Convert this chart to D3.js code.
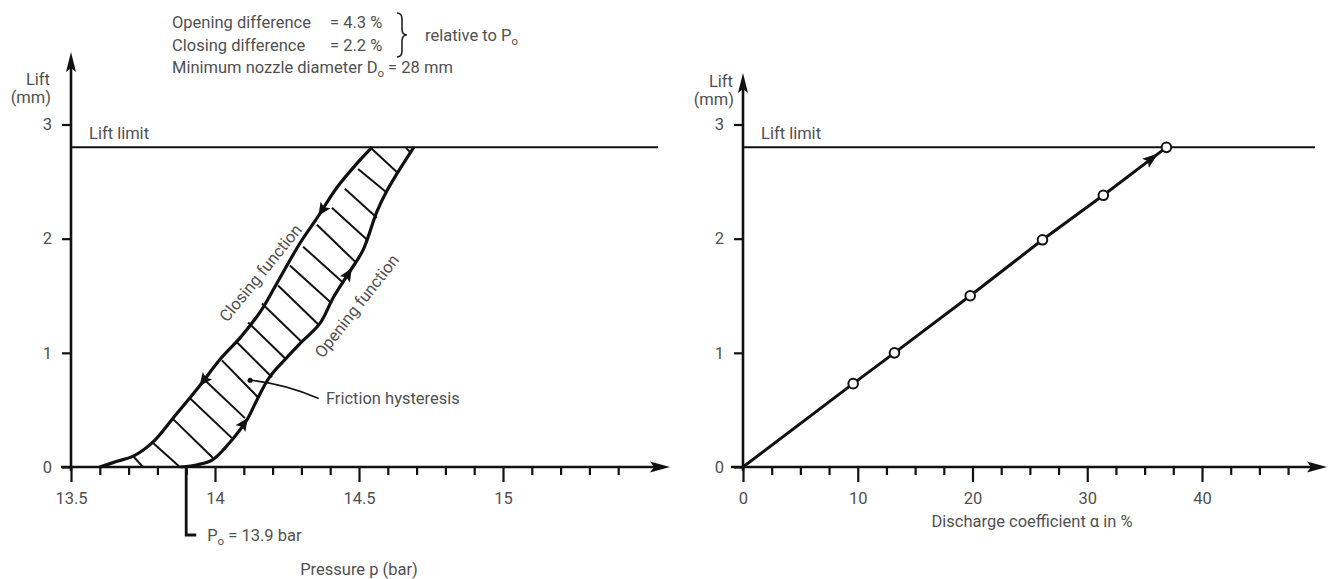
<!DOCTYPE html>
<html>
<head>
<meta charset="utf-8">
<script src="https://cdn.jsdelivr.net/npm/d3@7"></script>
<style>
	body { margin: 0; background: #fff; }
	svg text { font-family: Roboto, "DejaVu Sans", sans-serif; font-size: 16.5px; fill: #505050; }
</style>
</head>
<body>
<div id="chart"></div>
<script>
// lift axis (both charts)
var liftTicks = [0, 1, 2, 3];
var liftLimit = 2.8;

// left chart: pressure axis
var pressureTicks = [13.5, 14, 14.5, 15];
var pressureMinorTicks = [13.6, 13.7, 13.8, 13.9, 14.1, 14.2, 14.3, 14.4, 14.6, 14.7, 14.8, 14.9, 15.1, 15.2, 15.3, 15.4];
var setPressure = 13.9;

// closing function (pressure in bar, lift in mm)
var closingPressure = [13.6, 13.66, 13.72, 13.785, 13.855, 13.94, 14.02, 14.09, 14.16, 14.215, 14.295, 14.354, 14.424, 14.493, 14.545];
var closingLift = [0, 0.05, 0.1, 0.22, 0.43, 0.69, 0.95, 1.14, 1.37, 1.61, 1.96, 2.18, 2.45, 2.66, 2.8];

// opening function
var openingPressure = [13.88, 13.94, 13.99, 14.05, 14.11, 14.146, 14.19, 14.25, 14.295, 14.365, 14.41, 14.47, 14.514, 14.5625, 14.597, 14.632, 14.69];
var openingLift = [0, 0.02, 0.06, 0.21, 0.41, 0.59, 0.79, 0.96, 1.08, 1.26, 1.48, 1.72, 1.9, 2.24, 2.42, 2.57, 2.8];

// friction hysteresis hatching: start on closing curve, end on opening curve
var hatchStart = [[13.715, 0.096], [13.785, 0.21], [13.851, 0.428], [13.913, 0.603], [13.965, 0.76], [14.024, 0.934], [14.076, 1.092],
	[14.115, 1.266], [14.163, 1.432], [14.219, 1.59], [14.26, 1.764], [14.306, 1.93], [14.354, 2.122], [14.406, 2.271], [14.451, 2.437],
	[14.497, 2.611], [14.545, 2.786], [14.663, 2.795]];
var hatchEnd = [[13.75, 0], [13.878, 0], [13.993, 0.079], [14.059, 0.253], [14.104, 0.428], [14.149, 0.611], [14.198, 0.786],
	[14.243, 0.952], [14.302, 1.092], [14.358, 1.25], [14.406, 1.432], [14.448, 1.607], [14.49, 1.79], [14.531, 1.983], [14.562, 2.183],
	[14.597, 2.402], [14.635, 2.576], [14.681, 2.751]];

// direction arrows on the curves (lift where they sit)
var closingArrowLifts = [0.71, 2.2];
var openingArrowLifts = [0.43, 1.74];

// right chart: discharge coefficient
var dischargeTicks = [0, 10, 20, 30, 40];
var dischargeMinorTicks = [2.5, 5, 7.5, 12.5, 15, 17.5, 22.5, 25, 27.5, 32.5, 35, 37.5, 42.5, 45, 47.5];
var dischargeValues = [0, 9.6, 13.2, 19.8, 26.1, 31.4, 36.9];
var dischargeLift = [0, 0.73, 1.0, 1.5, 1.99, 2.38, 2.8];

(function() {
	"use strict";

	var svg = d3.select('#chart')
		.append('svg')
		.attr('width', 1332)
		.attr('height', 579);

	var liftScale = d3.scaleLinear().domain([0, 3]).range([467, 124.5]);
	var pressureScale = d3.scaleLinear().domain([13.5, 15]).range([71, 503]);
	var dischargeScale = d3.scaleLinear().domain([0, 40]).range([743, 1202]);

	renderNotes(svg);
	renderPressureChart(svg.append('g'), pressureScale, liftScale);
	renderDischargeChart(svg.append('g'), dischargeScale, liftScale);

	function arrowHead(g, x, y, angle, len, half) {
		g.append('path')
			.attr('d', 'M0,0 L' + (-len) + ',' + (-half) + ' L' + (-len * 0.8) + ',0 L' + (-len) + ',' + half + ' Z')
			.attr('transform', 'translate(' + x + ',' + y + ') rotate(' + angle + ')')
			.attr('fill', '#111');
	}

	function drawAxes(g, x, y, opts) {
		var x0 = x.range()[0];
		var y0 = y(0);

		g.append('g')
			.attr('transform', 'translate(0,' + y0 + ')')
			.call(d3.axisBottom(x).tickValues(opts.minor).tickSize(8).tickFormat(''))
			.call(function (a) { a.select('.domain').remove(); })
			.selectAll('line').attr('stroke', '#111').attr('stroke-width', 2.2);

		var major = g.append('g')
			.attr('transform', 'translate(0,' + y0 + ')')
			.call(d3.axisBottom(x).tickValues(opts.major).tickSize(15).tickPadding(10).tickFormat(d3.format('')));
		major.select('.domain').remove();
		major.selectAll('line').attr('stroke', '#111').attr('stroke-width', 2.2);
		major.selectAll('text').attr('font-size', null).attr('font-family', null).attr('fill', null);

		var left = g.append('g')
			.attr('transform', 'translate(' + x0 + ',0)')
			.call(d3.axisLeft(y).tickValues(liftTicks).tickSize(9).tickPadding(10).tickFormat(d3.format('d')));
		left.select('.domain').remove();
		left.selectAll('line').attr('stroke', '#111').attr('stroke-width', 2.2);
		left.selectAll('text').attr('font-size', null).attr('font-family', null).attr('fill', null);

		// axis lines with arrows
		g.append('line')
			.attr('x1', opts.xStart).attr('x2', opts.xEnd - 10)
			.attr('y1', y0).attr('y2', y0)
			.attr('stroke', '#111').attr('stroke-width', 2.6);
		arrowHead(g, opts.xEnd, y0, 0, 20, 5.5);

		g.append('line')
			.attr('x1', x0).attr('x2', x0)
			.attr('y1', y0 + 4).attr('y2', opts.yTop + 10)
			.attr('stroke', '#111').attr('stroke-width', 2.6);
		arrowHead(g, x0, opts.yTop, -90, 20, 5);

		// lift limit
		g.append('line')
			.attr('x1', x0).attr('x2', opts.xEnd - 12)
			.attr('y1', y(liftLimit)).attr('y2', y(liftLimit))
			.attr('stroke', '#111').attr('stroke-width', 2);
		g.append('text')
			.attr('x', x0 + 18)
			.attr('y', y(liftLimit) - 8)
			.text('Lift limit');

		var label = g.append('text')
			.attr('text-anchor', 'end')
			.attr('y', opts.labelY);
		label.append('tspan').attr('x', opts.labelX - 1).text('Lift');
		label.append('tspan').attr('x', opts.labelX).attr('dy', 18).text('(mm)');
	}

	function renderPressureChart(g, x, y) {
		drawAxes(g, x, y, {
			major: pressureTicks, minor: pressureMinorTicks,
			xStart: 61, xEnd: 670, yTop: 52, labelX: 51, labelY: 85
		});

		var hatch = g.append('g');
		hatch.selectAll('line')
			.data(d3.zip(hatchStart, hatchEnd))
			.enter()
			.append('line')
			.attr('x1', function (d) { return x(d[0][0]); })
			.attr('y1', function (d) { return y(d[0][1]); })
			.attr('x2', function (d) { return x(d[1][0]); })
			.attr('y2', function (d) { return y(d[1][1]); })
			.attr('stroke', '#111')
			.attr('stroke-width', 2);

		var line = d3.line()
			.x(function (d) { return x(d[0]); })
			.y(function (d) { return y(d[1]); })
			.curve(d3.curveCatmullRom);

		var closing = d3.zip(closingPressure, closingLift);
		var opening = d3.zip(openingPressure, openingLift);

		[closing, opening].forEach(function (pts) {
			g.append('path')
				.attr('d', line(pts))
				.attr('fill', 'none')
				.attr('stroke', '#111')
				.attr('stroke-width', 3.2)
				.attr('stroke-linejoin', 'round');
		});

		curveArrows(g, x, y, closingPressure, closingLift, closingArrowLifts, -1);
		curveArrows(g, x, y, openingPressure, openingLift, openingArrowLifts, 1);

		// curve labels
		g.append('text')
			.attr('text-anchor', 'middle')
			.attr('transform', 'translate(' + x(14.158) + ',' + y(1.70) + ') rotate(-51)')
			.attr('dy', '0.35em')
			.text('Closing function');
		g.append('text')
			.attr('text-anchor', 'middle')
			.attr('transform', 'translate(' + x(14.492) + ',' + y(1.41) + ') rotate(-52)')
			.attr('dy', '0.35em')
			.text('Opening function');

		// friction hysteresis pointer
		g.append('circle')
			.attr('cx', x(14.122)).attr('cy', y(0.76))
			.attr('r', 2.6).attr('fill', '#111');
		g.append('path')
			.attr('d', 'M' + x(14.122) + ',' + y(0.76) + ' Q' + x(14.24) + ',' + y(0.73) + ' ' + x(14.36) + ',' + y(0.6))
			.attr('fill', 'none').attr('stroke', '#111').attr('stroke-width', 1.6);
		g.append('text')
			.attr('x', x(14.385))
			.attr('y', y(0.55))
			.text('Friction hysteresis');

		// set pressure marker
		var px = x(setPressure);
		g.append('path')
			.attr('d', 'M' + px + ',' + y(0) + ' V535 H' + (px + 10))
			.attr('fill', 'none').attr('stroke', '#111').attr('stroke-width', 2.8);
		var p0 = g.append('text').attr('x', px + 21).attr('y', 541);
		p0.append('tspan').text('P');
		p0.append('tspan').attr('dy', 4).attr('font-size', '11.5px').text('o');
		p0.append('tspan').attr('dy', -4).text(' = 13.9 bar');

		g.append('text')
			.attr('text-anchor', 'middle')
			.attr('x', x(14.5))
			.attr('y', 575)
			.text('Pressure p (bar)');
	}

	function curveArrows(g, x, y, pressures, lifts, at, dir) {
		var pAt = d3.scaleLinear().domain(lifts).range(pressures);
		at.forEach(function (l) {
			var tipX = x(pAt(l)), tipY = y(l);
			var backX = x(pAt(l - dir * 0.08)), backY = y(l - dir * 0.08);
			var angle = Math.atan2(tipY - backY, tipX - backX) * 180 / Math.PI;
			arrowHead(g, tipX, tipY, angle, 13, 6);
		});
	}

	function renderDischargeChart(g, x, y) {
		drawAxes(g, x, y, {
			major: dischargeTicks, minor: dischargeMinorTicks,
			xStart: 731, xEnd: 1327, yTop: 73, labelX: 734, labelY: 87
		});

		var pts = d3.zip(dischargeValues, dischargeLift);
		g.append('path')
			.attr('d', d3.line()
				.x(function (d) { return x(d[0]); })
				.y(function (d) { return y(d[1]); })(pts))
			.attr('fill', 'none')
			.attr('stroke', '#111')
			.attr('stroke-width', 3);

		// direction arrow just before the lift limit point
		var n = pts.length;
		var a = pts[n - 2], b = pts[n - 1];
		var t = 0.87;
		var tipX = x(a[0] + (b[0] - a[0]) * t), tipY = y(a[1] + (b[1] - a[1]) * t);
		var angle = Math.atan2(y(b[1]) - y(a[1]), x(b[0]) - x(a[0])) * 180 / Math.PI;
		arrowHead(g, tipX, tipY, angle, 16, 5.5);

		g.selectAll('circle.pt')
			.data(pts.slice(1))
			.enter()
			.append('circle')
			.classed('pt', true)
			.attr('cx', function (d) { return x(d[0]); })
			.attr('cy', function (d) { return y(d[1]); })
			.attr('r', 4.8)
			.attr('fill', '#fff')
			.attr('stroke', '#111')
			.attr('stroke-width', 2);

		g.append('text')
			.attr('text-anchor', 'middle')
			.attr('x', 1032)
			.attr('y', 527)
			.text('Discharge coefficient \u03b1 in %');
	}

	function renderNotes(svg) {
		var g = svg.append('g');
		g.append('text').attr('x', 172).attr('y', 28).text('Opening difference');
		g.append('text').attr('x', 330).attr('y', 28).text('= 4.3 %');
		g.append('text').attr('x', 172).attr('y', 51).text('Closing difference');
		g.append('text').attr('x', 330).attr('y', 51).text('= 2.2 %');

		var d0 = g.append('text').attr('x', 172).attr('y', 73);
		d0.append('tspan').text('Minimum nozzle diameter D');
		d0.append('tspan').attr('dy', 4).attr('font-size', '11.5px').text('o');
		d0.append('tspan').attr('dy', -4).text(' = 28 mm');

		g.append('path')
			.attr('d', 'M397,13 Q402,13 402,19 L402,29 Q402,35 407,35 Q402,35 402,41 L402,51 Q402,57 397,57')
			.attr('fill', 'none').attr('stroke', '#222').attr('stroke-width', 1.6);

		var rel = g.append('text').attr('x', 425).attr('y', 41);
		rel.append('tspan').text('relative to P');
		rel.append('tspan').attr('dy', 4).attr('font-size', '11.5px').text('o');
	}
}());
</script>
</body>
</html>
